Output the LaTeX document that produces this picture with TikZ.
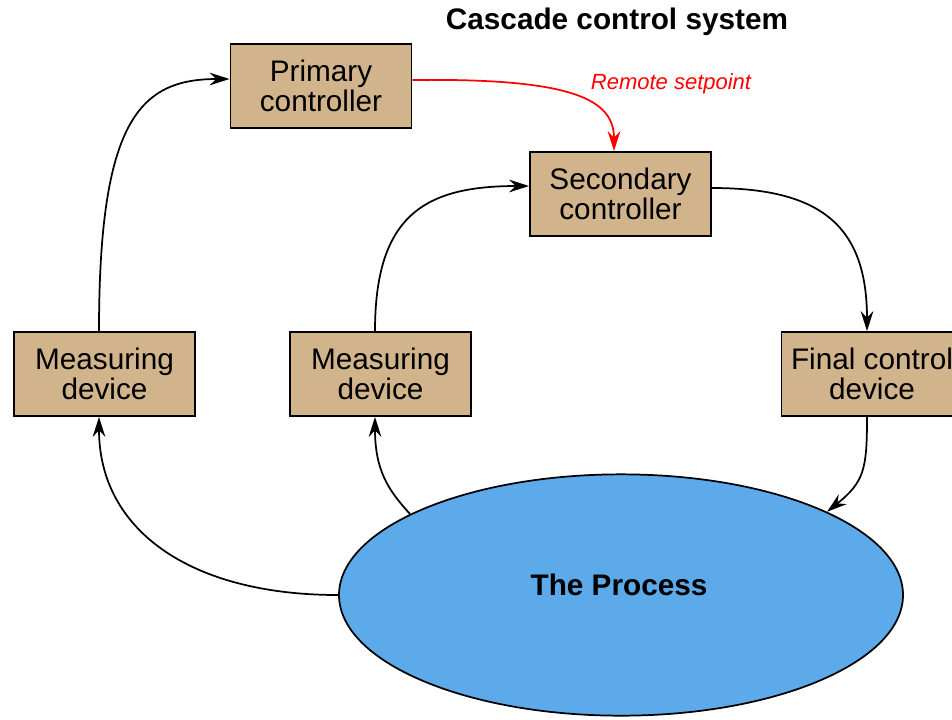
\documentclass[tikz,border=0pt]{standalone}
\usepackage{fontspec}
\setmainfont{Liberation Sans}
\usetikzlibrary{shapes.geometric,arrows.meta,calc}
\definecolor{boxtan}{RGB}{210,180,140}
\definecolor{procblue}{RGB}{93,170,235}
\tikzset{
  blk/.style={draw=black, line width=1.4pt, fill=boxtan, minimum width=135.75pt, minimum height=63pt,
    inner sep=0pt, align=center, font=\fontsize{22.3}{22.5}\selectfont},
  conn/.style={draw=black, line width=1.3pt, -{Stealth[length=15pt,width=9.5pt,inset=5pt]}},
  redconn/.style={draw=red, line width=1.3pt, -{Stealth[length=15pt,width=9.5pt,inset=5pt]}},
}
\begin{document}
\begin{tikzpicture}[x=0.75pt,y=-0.75pt]
\useasboundingbox (0,0) rectangle (952,719);
\clip (0,0) rectangle (952,719);
\node[font=\bfseries\fontsize{22.3}{22.5}\selectfont] (title) at (617,22) {Cascade control system};
\node[ellipse, draw=black, line width=1.3pt, fill=procblue, minimum width=423pt, minimum height=181pt, inner sep=0pt] (proc) at (621,595) {};
\node[font=\bfseries\fontsize{22.3}{22.5}\selectfont] (proclabel) at (619,585) {The Process};
\node[blk] (pc) at (321,86) {Primary\\controller};
\node[blk] (sc) at (620.5,194) {Secondary\\controller};
\node[blk] (m1) at (104.5,374) {Measuring\\device};
\node[blk] (m2) at (380.5,374) {Measuring\\device};
\node[blk] (fc) at (872,374) {Final control\\device};
\node[text=red, font=\itshape\fontsize{16.5}{18}\selectfont] (rs) at (671,84) {Remote setpoint};
% connectors
\draw[conn] (m1.north -| 99,0) .. controls (99,120) and (140,79) .. ($(pc.west)+(0,-7)$);
\draw[conn] (m2.north -| 375,0) .. controls (375,215) and (425,186) .. ($(sc.west)+(0,-8)$);
\draw[conn] ($(sc.east)+(0,-6)$) .. controls (820,188) and (867,225) .. (fc.north -| 867,0);
\draw[conn] (fc.south -| 867,0) .. controls (867,470) and (864,482) .. (proc.22);
\draw[conn] (proc.159) .. controls (388,490) and (375,470) .. (m2.south -| 375,0);
\draw[conn] (proc.west) .. controls (190,595) and (99,530) .. (m1.south -| 99,0);
\draw[redconn] ($(pc.east)+(0,-6)$) .. controls (575,78) and (614,100) .. (sc.north -| 614,0);
\end{tikzpicture}
\end{document}
